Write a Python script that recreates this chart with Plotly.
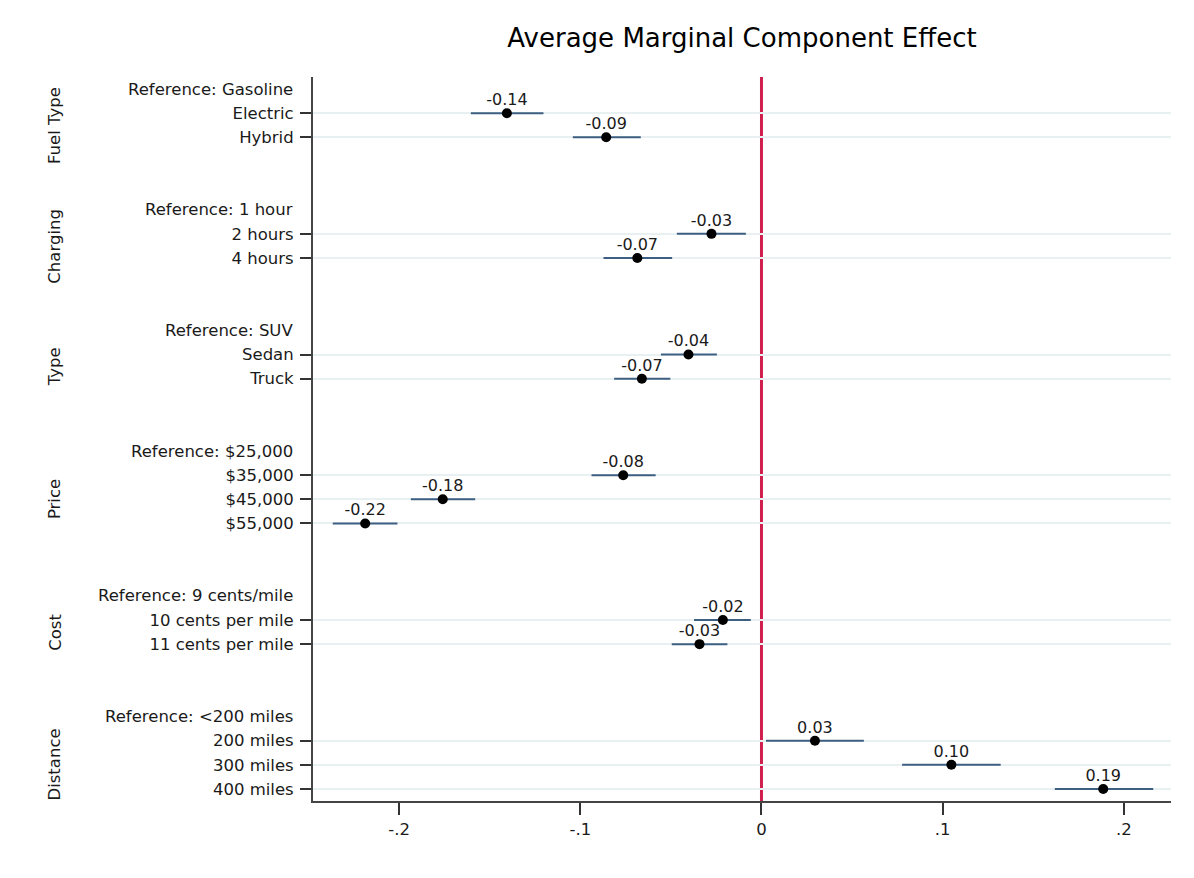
import plotly.graph_objects as go

# ---------------- data ----------------
groups = ["Fuel Type", "Charging", "Type", "Price", "Cost", "Distance"]
references = [
    "Reference: Gasoline",
    "Reference: 1 hour",
    "Reference: SUV",
    "Reference: $25,000",
    "Reference: 9 cents/mile",
    "Reference: &lt;200 miles",
]
levels = [
    ["Electric", "Hybrid"],
    ["2 hours", "4 hours"],
    ["Sedan", "Truck"],
    ["$35,000", "$45,000", "$55,000"],
    ["10 cents per mile", "11 cents per mile"],
    ["200 miles", "300 miles", "400 miles"],
]
estimates = [
    [-0.1405, -0.0857],
    [-0.0276, -0.0685],
    [-0.0403, -0.0660],
    [-0.0763, -0.1759, -0.2187],
    [-0.0213, -0.0342],
    [0.0295, 0.1048, 0.1886],
]
ci_low = [
    [-0.1604, -0.1041],
    [-0.0467, -0.0872],
    [-0.0555, -0.0813],
    [-0.0938, -0.1935, -0.2366],
    [-0.0372, -0.0495],
    [0.0025, 0.0776, 0.1619],
]
ci_high = [
    [-0.1203, -0.0666],
    [-0.0086, -0.0493],
    [-0.0246, -0.0503],
    [-0.0584, -0.1580, -0.2009],
    [-0.0059, -0.0188],
    [0.0565, 0.1320, 0.2162],
]
x_tick_vals = [-0.2, -0.1, 0, 0.1, 0.2]
x_tick_text = ["-.2", "-.1", "0", ".1", ".2"]
title_text = "Average Marginal Component Effect"

# ---------------- row layout ----------------
GAP = 2
row = 0
ref_rows, lvl_rows, lvl_text, pts, lo, hi, grp_centers = [], [], [], [], [], [], []
for g, ref, lv, est, l, h in zip(groups, references, levels, estimates, ci_low, ci_high):
    ref_rows.append(row)
    row += 1
    rows_here = []
    for name, e, a, b in zip(lv, est, l, h):
        lvl_rows.append(row)
        rows_here.append(row)
        lvl_text.append(name)
        pts.append(e)
        lo.append(a)
        hi.append(b)
        row += 1
    grp_centers.append(sum(rows_here) / len(rows_here))
    row += GAP
last_row = lvl_rows[-1]

FONT = "DejaVu Sans"
TXT = "#1a1a1a"
CI_COLOR = "#3d5f82"

# page body has an 8px margin: figure is sized so the plot lands where the reference has it
W, H = 1186, 870

fig = go.Figure()
# value labels (transparent marker controls the label offset)
fig.add_trace(go.Scatter(
    x=pts,
    y=lvl_rows,
    mode="markers+text",
    marker=dict(size=5, color="rgba(0,0,0,0)"),
    text=[f"{v:.2f}" for v in pts],
    textposition="top center",
    textfont=dict(family=FONT, size=16, color=TXT),
    showlegend=False,
    hoverinfo="skip",
))
fig.add_trace(go.Scatter(
    x=pts,
    y=lvl_rows,
    mode="markers",
    marker=dict(color="black", size=10),
    error_x=dict(
        type="data",
        symmetric=False,
        array=[b - p for b, p in zip(hi, pts)],
        arrayminus=[p - a for p, a in zip(pts, lo)],
        color=CI_COLOR,
        thickness=2,
        width=0,
    ),
    showlegend=False,
    hoverinfo="skip",
))

# zero reference line
fig.add_shape(type="line", xref="x", yref="paper", x0=0, x1=0, y0=0, y1=1,
              line=dict(color="#cf1f4f", width=3), layer="below")

annotations = []
for r, t in zip(ref_rows, references):
    annotations.append(dict(
        x=0, xref="paper", y=r, yref="y", text=t, showarrow=False,
        xanchor="right", yanchor="middle", xshift=-18,
        font=dict(family=FONT, size=16.5, color=TXT),
    ))
for c, g in zip(grp_centers, groups):
    annotations.append(dict(
        x=-0.301, xref="paper", y=c, yref="y", text=g, showarrow=False,
        textangle=-90, xanchor="center", yanchor="middle",
        font=dict(family=FONT, size=16.5, color=TXT),
    ))

fig.update_layout(
    width=W,
    height=H,
    margin=dict(l=305, r=23, t=69, b=77),
    paper_bgcolor="white",
    plot_bgcolor="white",
    title=dict(
        text=title_text,
        x=0.5, xref="paper", xanchor="center",
        y=1 - 30 / H, yref="container", yanchor="middle",
        font=dict(family=FONT, size=26, color="black"),
    ),
    annotations=annotations,
    xaxis=dict(
        range=[-0.2475, 0.226],
        tickvals=x_tick_vals,
        ticktext=x_tick_text,
        ticks="outside",
        ticklen=12,
        tickwidth=2,
        tickcolor="#333333",
        showline=True,
        linecolor="#444444",
        linewidth=2,
        showgrid=False,
        zeroline=False,
        tickfont=dict(family=FONT, size=16.5, color=TXT),
    ),
    yaxis=dict(
        range=[last_row + 0.5, -0.5],
        tickvals=lvl_rows,
        ticktext=lvl_text,
        ticks="outside",
        ticklen=11,
        tickwidth=2,
        tickcolor="#333333",
        ticklabelstandoff=3,
        showline=True,
        linecolor="#444444",
        linewidth=2,
        showgrid=True,
        gridcolor="#e8f0f2",
        gridwidth=2,
        zeroline=False,
        tickfont=dict(family=FONT, size=16.5, color=TXT),
    ),
)

fig.write_html("out.html")
